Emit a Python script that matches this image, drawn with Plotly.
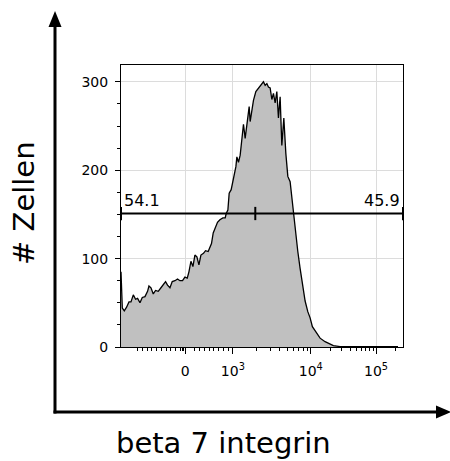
import math
import plotly.graph_objects as go

# ---------------- data ----------------
# histogram: display channel (0-1000 across the biexponential axis) vs. cell count
channel = [0, 4.6, 11.7, 19.8, 28.3, 35.4, 43.6, 51.7, 58.8, 67.3, 75.5, 85, 94.2, 99.2, 106.3,
           114.4, 122.6, 132.1, 141.7, 149.8, 158, 165, 173.6, 181.7, 191.3, 200.5, 209, 218.2,
           226.7, 234.9, 240.9, 248, 255, 262.1, 269.2, 276.3, 283.4, 292.6, 299.7, 309.2, 315.3,
           320.9, 327, 335.1, 342.2, 350.7, 361.3, 369.5, 373, 379, 383.6, 390.7, 398.9, 407.4,
           410.9, 416.6, 422.6, 428.6, 434.3, 440.3, 446.3, 454.5, 458, 464, 469.7, 478.2, 487.4,
           497, 505.1, 511.2, 517.2, 522.8, 528.9, 534.9, 540.6, 546.6, 552.6, 558.3, 564.3, 570.3,
           577.4, 584.5, 591.6, 599.7, 605.7, 611.4, 617.4, 627, 635.1, 643.3, 652.9, 662.4, 670.6,
           678.7, 688.3, 706, 723.7, 735.4, 753.1, 776.8, 847.7, 918.5, 982.3]
counts = [85, 44, 41, 45, 51, 51, 59, 54, 55, 50, 56, 57, 63, 69, 67, 60, 64, 63, 67, 70, 74, 70,
          67, 74, 75, 77, 75, 75, 79, 78, 85, 97, 91, 104, 102, 93, 104, 106, 109, 108, 112, 117,
          129, 136, 141, 144, 146, 146, 151, 155, 174, 178, 189, 204, 215, 209, 217, 232, 252, 236,
          253, 272, 255, 268, 279, 289, 293, 296, 300, 296, 298, 294, 293, 280, 287, 276, 289, 259,
          283, 228, 259, 219, 193, 187, 168, 153, 131, 108, 89, 70, 52, 40, 33, 23, 18, 10, 6, 4,
          1.5, 0.5, 0.3, 0.3, 0.3]

# gate (bisector) : level, split value, percentages
gate_level = 151
gate_split_value = 1940
gate_left_pct = "54.1"
gate_right_pct = "45.9"

x_major_values = [0, 1e3, 1e4, 1e5]
x_major_labels = ["0", "10<sup>3</sup>", "10<sup>4</sup>", "10<sup>5</sup>"]
x_minor_values = ([-1000, -900, -800, -700, -600, -500, -400, -300, -200, -100, -60, -30]
                  + [200, 300, 400, 500, 600, 700, 800, 900]
                  + [2e3, 3e3, 4e3, 5e3, 6e3, 7e3, 8e3, 9e3]
                  + [2e4, 3e4, 4e4, 5e4, 6e4, 7e4, 8e4, 9e4, 2e5])
y_major_values = [0, 100, 200, 300]

x_title = "beta 7 integrin"
y_title = "# Zellen"


# biexponential-like display transform (value -> display channel)
def to_channel(v):
    if v <= 1000:
        return 227.8 + 0.1689 * v
    lg = math.log10(v)
    if lg <= 4:
        return 396.7 + (lg - 3) * 276.3
    return 673.0 + (lg - 4) * 231.4


X_MIN, X_MAX = 0, 1000
Y_MAX = 319

fig = go.Figure()

fig.add_trace(go.Scatter(
    x=channel, y=counts, mode="lines", fill="tozeroy",
    fillcolor="#c0c0c0", line=dict(color="black", width=1.3),
    hoverinfo="skip", showlegend=False))

# gate line with end / split markers
tick_h = 7.5
xm = to_channel(gate_split_value)
gx = [X_MIN, X_MAX, None, X_MIN, X_MIN, None, xm, xm, None, X_MAX, X_MAX]
gy = [gate_level, gate_level, None, gate_level - tick_h, gate_level + tick_h, None,
      gate_level - tick_h, gate_level + tick_h, None, gate_level - tick_h, gate_level + tick_h]
fig.add_trace(go.Scatter(x=gx, y=gy, mode="lines", line=dict(color="black", width=2),
                         hoverinfo="skip", showlegend=False))

font = "DejaVu Sans"

fig.add_annotation(x=X_MIN, y=gate_level, xref="x", yref="y", text=gate_left_pct,
                   showarrow=False, xanchor="left", yanchor="bottom", xshift=1, yshift=2,
                   font=dict(family=font, size=16, color="black"))
fig.add_annotation(x=X_MAX, y=gate_level, xref="x", yref="y", text=gate_right_pct,
                   showarrow=False, xanchor="right", yanchor="bottom", xshift=-1, yshift=2,
                   font=dict(family=font, size=16, color="black"))

# axis titles
W, H = 450, 461
L, R, T, B = 121, 47, 65, 114
PW, PH = W - L - R, H - T - B


def px(xp):
    return (xp - L) / PW


def py(yp):
    return (H - B - yp) / PH


fig.add_annotation(x=px(24), y=py(203), xref="paper", yref="paper", text=y_title,
                   textangle=-90, showarrow=False, xanchor="center", yanchor="middle",
                   font=dict(family=font, size=29, color="black"))
fig.add_annotation(x=px(223), y=py(443), xref="paper", yref="paper", text=x_title,
                   showarrow=False, xanchor="center", yanchor="middle",
                   font=dict(family=font, size=29, color="black"))

# decorative axis arrows
shapes = [
    dict(type="line", xref="paper", yref="paper", x0=px(55), x1=px(55), y0=py(413.5), y1=py(25),
         line=dict(color="black", width=3)),
    dict(type="path", xref="paper", yref="paper",
         path=f"M {px(55)} {py(11)} L {px(48.5)} {py(27)} L {px(61.5)} {py(27)} Z",
         fillcolor="black", line=dict(color="black", width=0)),
    dict(type="line", xref="paper", yref="paper", x0=px(53.5), x1=px(438), y0=py(412), y1=py(412),
         line=dict(color="black", width=3)),
    dict(type="path", xref="paper", yref="paper",
         path=f"M {px(451)} {py(412)} L {px(436)} {py(405.5)} L {px(436)} {py(418.5)} Z",
         fillcolor="black", line=dict(color="black", width=0)),
]

fig.update_layout(
    width=W, height=H, margin=dict(l=L, r=R, t=T, b=B, pad=0),
    paper_bgcolor="white", plot_bgcolor="white", shapes=shapes,
    font=dict(family=font, size=14, color="black"),
    xaxis=dict(range=[X_MIN, X_MAX], tickmode="array",
               tickvals=[to_channel(v) for v in x_major_values], ticktext=x_major_labels,
               ticks="outside", ticklen=6, tickwidth=1, tickcolor="black",
               showgrid=True, gridcolor="#dcdcdc", gridwidth=1, zeroline=False,
               showline=True, linecolor="black", linewidth=1, mirror=True,
               tickfont=dict(family=font, size=14, color="black"), ticklabelstandoff=5,
               minor=dict(tickmode="array", tickvals=[to_channel(v) for v in x_minor_values],
                          ticks="outside", ticklen=3, tickwidth=1, tickcolor="black",
                          showgrid=False)),
    yaxis=dict(range=[0, Y_MAX], tickmode="array", tickvals=y_major_values,
               ticks="outside", ticklen=5, tickwidth=1, tickcolor="black",
               showgrid=True, gridcolor="#dcdcdc", gridwidth=1, zeroline=False,
               showline=True, linecolor="black", linewidth=1, mirror=True,
               tickfont=dict(family=font, size=14, color="black"), ticklabelstandoff=4,
               minor=dict(dtick=25, tick0=0, ticks="outside", ticklen=3, tickwidth=1,
                          tickcolor="black", showgrid=False)),
)

fig.write_html("out.html")
